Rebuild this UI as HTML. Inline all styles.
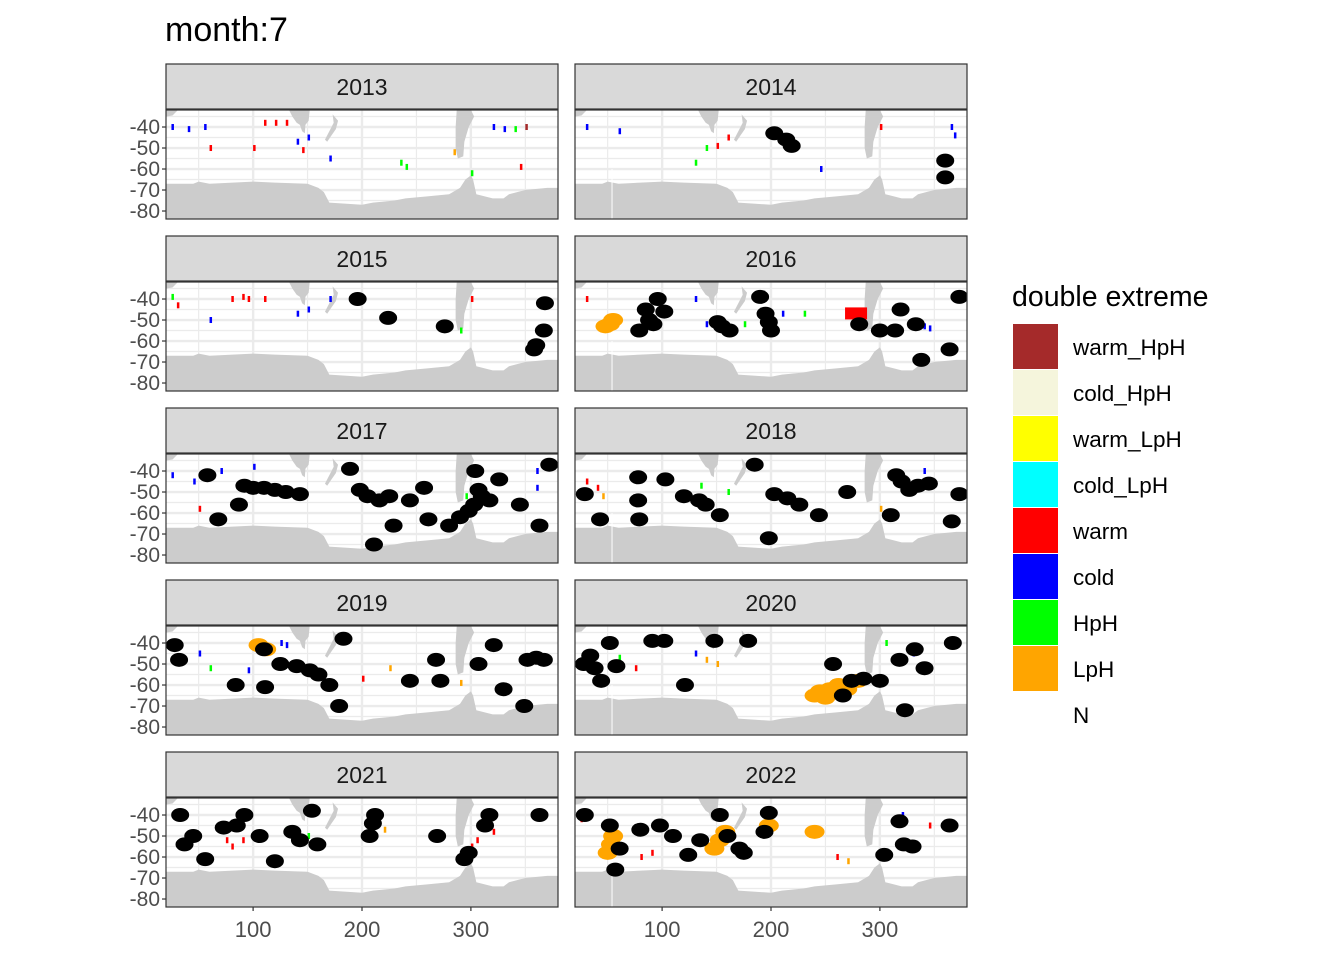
<!DOCTYPE html>
<html><head><meta charset="utf-8"><style>
body{margin:0;background:#fff;}
svg{display:block;font-family:"Liberation Sans",sans-serif;}
</style></head><body>
<svg id="c" width="1344" height="960" xmlns="http://www.w3.org/2000/svg">
<text x="165" y="41" font-size="34" fill="#000">month:7</text>
</svg>
<script>
const years=[2013,2014,2015,2016,2017,2018,2019,2020,2021,2022];
const lonTicks=[100,200,300];
const latTicks=[-40,-50,-60,-70,-80];
const legendLabels=["warm_HpH","cold_HpH","warm_LpH","cold_LpH","warm","cold","HpH","LpH","N"];
const legendColors=["#a52a2a","#f5f5dc","#ffff00","#00ffff","#ff0000","#0000ff","#00ff00","#ffa500","none"];
const antarctica=[[20,-67],[45,-67],[50,-66],[60,-67],[100,-66],[120,-66.5],[150,-67],[160,-69],[165,-71],[170,-76],[200,-77],[210,-76],[230,-75],[240,-74],[260,-73],[280,-72],[290,-69],[295,-65],[300,-63],[302,-65],[305,-72],[320,-74],[330,-74],[335,-72],[350,-70],[370,-69],[380,-69],[380,-84],[20,-84]];
const australia=[[133,-31.9],[152,-31.9],[151,-37],[148,-39],[147.5,-43],[145,-42],[143,-39],[140,-38],[136,-35]];
const newZealand=[[173,-34],[178,-37],[176,-41],[172,-44],[168,-47],[166,-46],[170,-42],[174,-38]];
const southAmerica=[[287,-31.9],[300,-31.9],[303,-35],[298,-40],[294,-47],[293,-54],[288,-55],[286,-50],[286,-40]];
const africa=[[18,-31.9],[31,-31.9],[26,-34.5],[20,-35]];
const blobs={
2013:[],
2014:[[203,-43],[219,-49],[214,-46],[360,-56],[360,-64]],
2015:[[196,-40],[224,-49],[276,-53],[368,-42],[367,-55],[358,-64],[360,-62]],
2016:[[96,-40],[88,-50],[79,-55],[102,-46],[92,-52],[151,-51],[162,-55],[190,-39],[195,-47],[200,-55],[198,-51],[281,-52],[300,-55],[319,-45],[314,-55],[333,-52],[373,-39],[364,-64],[338,-69],[85,-45],[155,-53]],
2017:[[58,-42],[92,-47],[120,-49],[143,-51],[110,-48],[87,-56],[68,-63],[189,-39],[198,-49],[216,-54],[244,-54],[257,-48],[261,-63],[229,-66],[211,-75],[304,-40],[307,-49],[326,-44],[298,-59],[280,-66],[345,-56],[363,-66],[372,-37],[317,-54],[290,-62],[310,-52],[100,-48],[130,-50],[225,-52],[205,-52],[303,-56]],
2018:[[29,-51],[78,-43],[78,-54],[79,-63],[43,-63],[103,-44],[134,-54],[153,-61],[185,-37],[203,-51],[226,-56],[244,-61],[198,-72],[270,-50],[315,-42],[327,-49],[345,-46],[373,-51],[310,-61],[366,-64],[120,-52],[140,-56],[215,-53],[320,-45],[335,-47]],
2019:[[28,-41],[32,-48],[110,-43],[125,-50],[152,-53],[170,-60],[183,-38],[111,-61],[84,-60],[179,-70],[244,-58],[268,-48],[272,-58],[307,-50],[321,-41],[330,-62],[352,-48],[367,-48],[349,-70],[140,-51],[160,-55],[360,-47]],
2020:[[34,-46],[52,-40],[58,-51],[44,-58],[28,-50],[91,-39],[102,-39],[121,-60],[148,-39],[179,-39],[257,-50],[274,-58],[266,-65],[300,-58],[318,-48],[332,-43],[341,-52],[323,-72],[367,-40],[38,-52],[285,-57]],
2021:[[33,-40],[37,-54],[56,-61],[73,-46],[92,-40],[106,-50],[120,-62],[136,-48],[143,-52],[159,-54],[154,-38],[207,-50],[212,-40],[269,-50],[294,-61],[313,-45],[317,-40],[363,-40],[45,-50],[85,-45],[298,-58],[210,-44]],
2022:[[29,-40],[52,-45],[61,-56],[57,-66],[80,-47],[98,-45],[124,-59],[135,-52],[153,-40],[171,-56],[198,-39],[194,-48],[304,-59],[322,-54],[318,-43],[364,-45],[160,-50],[110,-50],[175,-58],[330,-55]]
};
const orange={
2016:[[52,-52],[55,-50],[48,-53]],
2019:[[105,-41],[112,-43]],
2020:[[254,-62],[245,-63],[262,-60],[270,-62],[250,-66],[280,-58],[240,-65]],
2022:[[53,-54],[50,-58],[55,-50],[153,-52],[148,-56],[158,-48],[198,-45],[240,-48]]
};
const ticks={
2013:[[25,-40,"#0000ff"],[40,-41,"#0000ff"],[110,-38,"#ff0000"],[120,-38,"#ff0000"],[130,-38,"#ff0000"],[100,-50,"#ff0000"],[150,-45,"#0000ff"],[170,-55,"#0000ff"],[235,-57,"#00ff00"],[240,-59,"#00ff00"],[320,-40,"#0000ff"],[340,-41,"#00ff00"],[350,-40,"#a52a2a"],[345,-59,"#ff0000"],[300,-62,"#00ff00"],[284,-52,"#ffa500"],[60,-50,"#ff0000"],[55,-40,"#0000ff"],[140,-47,"#0000ff"],[145,-51,"#ff0000"],[330,-41,"#0000ff"]],
2014:[[30,-40,"#0000ff"],[60,-42,"#0000ff"],[140,-50,"#00ff00"],[130,-57,"#00ff00"],[300,-40,"#ff0000"],[365,-40,"#0000ff"],[368,-44,"#0000ff"],[245,-60,"#0000ff"],[160,-45,"#ff0000"],[150,-49,"#ff0000"]],
2015:[[25,-39,"#00ff00"],[30,-43,"#ff0000"],[80,-40,"#ff0000"],[90,-39,"#ff0000"],[110,-40,"#ff0000"],[150,-45,"#0000ff"],[170,-40,"#0000ff"],[300,-40,"#ff0000"],[290,-55,"#00ff00"],[60,-50,"#0000ff"],[95,-40,"#ff0000"],[140,-47,"#0000ff"]],
2016:[[30,-40,"#ff0000"],[175,-52,"#00ff00"],[230,-47,"#00ff00"],[345,-54,"#0000ff"],[340,-53,"#0000ff"],[130,-40,"#0000ff"],[140,-52,"#0000ff"],[210,-47,"#0000ff"]],
2017:[[25,-42,"#0000ff"],[70,-40,"#0000ff"],[100,-38,"#0000ff"],[295,-52,"#00ff00"],[360,-40,"#0000ff"],[360,-48,"#0000ff"],[50,-58,"#ff0000"],[45,-45,"#0000ff"]],
2018:[[30,-45,"#ff0000"],[40,-48,"#ff0000"],[135,-47,"#00ff00"],[160,-50,"#00ff00"],[300,-58,"#ffa500"],[340,-40,"#0000ff"],[45,-52,"#ffa500"]],
2019:[[125,-40,"#0000ff"],[130,-41,"#0000ff"],[95,-53,"#0000ff"],[60,-52,"#00ff00"],[200,-57,"#ff0000"],[290,-59,"#ffa500"],[225,-52,"#ffa500"],[50,-45,"#0000ff"]],
2020:[[60,-47,"#00ff00"],[75,-52,"#ff0000"],[140,-48,"#ffa500"],[150,-50,"#ffa500"],[305,-40,"#00ff00"],[330,-45,"#0000ff"],[370,-40,"#ff0000"],[130,-45,"#0000ff"]],
2021:[[75,-52,"#ff0000"],[80,-55,"#ff0000"],[130,-47,"#00ff00"],[150,-50,"#00ff00"],[300,-55,"#ff0000"],[305,-52,"#ff0000"],[320,-48,"#ff0000"],[220,-47,"#ffa500"],[90,-52,"#ff0000"]],
2022:[[25,-42,"#ff0000"],[150,-40,"#ff0000"],[320,-40,"#0000ff"],[345,-45,"#ff0000"],[360,-45,"#ff0000"],[80,-60,"#ff0000"],[260,-60,"#ff0000"],[270,-62,"#ffa500"],[90,-58,"#ff0000"]]
};
const NS="http://www.w3.org/2000/svg";
const svg=document.getElementById('c');
function mk(t,a,p){const e=document.createElementNS(NS,t);for(const k in a)e.setAttribute(k,a[k]);(p||svg).appendChild(e);return e;}
const PW=392,PH=109,LAT0=-31.9,LAT1=-83.8;
years.forEach((yr,i)=>{
  const col=i%2,row=Math.floor(i/2);
  const x0=col?575:166,y0=110+172*row;
  const X=l=>x0+(l-20)/360*PW, Y=la=>y0+(LAT0-la)/(LAT0-LAT1)*PH;
  const g=mk('g',{});
  
  
  const st=mk('rect',{x:x0,y:y0-46,width:PW,height:45,fill:'#d9d9d9',stroke:'#333','stroke-width':1.2},g);
  
  const stt=mk('text',{x:x0+PW/2,y:y0-15,'text-anchor':'middle','font-size':23,fill:'#1a1a1a'},g);stt.textContent=yr;
  
  const cp='clip'+yr;const cl=mk('clipPath',{id:cp},g);mk('rect',{x:x0,y:y0,width:PW,height:PH},cl);
  const inner=mk('g',{'clip-path':'url(#'+cp+')'},g);
  mk('rect',{x:x0,y:y0,width:PW,height:PH,fill:'#fff'},inner);
  [-35,-45,-55,-65,-75].forEach(v=>mk('line',{x1:x0,x2:x0+PW,y1:Y(v),y2:Y(v),stroke:'#ebebeb','stroke-width':1.2},inner));
  [50,150,250,350].forEach(v=>mk('line',{x1:X(v),x2:X(v),y1:y0,y2:y0+PH,stroke:'#ebebeb','stroke-width':1.2},inner));
  latTicks.forEach(v=>mk('line',{x1:x0,x2:x0+PW,y1:Y(v),y2:Y(v),stroke:'#ebebeb','stroke-width':2.4},inner));
  lonTicks.forEach(v=>mk('line',{x1:X(v),x2:X(v),y1:y0,y2:y0+PH,stroke:'#ebebeb','stroke-width':2.4},inner));
  [antarctica,australia,newZealand,southAmerica,africa].forEach((poly,k)=>{
    const p=mk('polygon',{points:poly.map(q=>X(q[0])+','+Y(q[1])).join(' '),fill:'#cccccc'},inner);
    
    
  });
  if(col) mk('line',{x1:X(54),x2:X(54),y1:Y(-60),y2:y0+PH,stroke:'#fff','stroke-width':1},inner);
  (ticks[yr]||[]).forEach(t=>{const r=mk('rect',{x:X(t[0]),y:Y(t[1])-3,width:2.5,height:6,fill:t[2]},inner);
    });
  (orange[yr]||[]).forEach(t=>{const r=mk('ellipse',{cx:X(t[0]),cy:Y(t[1]),rx:10,ry:7,fill:'#ffa500'},inner);
    });
  if(yr==2016){const r=mk('rect',{x:X(268),y:Y(-44),width:22,height:12,fill:'#ff0000'},inner);}
  (blobs[yr]||[]).forEach(t=>{const c=mk('ellipse',{cx:X(t[0]),cy:Y(t[1]),rx:9,ry:7,fill:'#000'},inner);
    });
  mk('rect',{x:x0,y:y0,width:PW,height:PH,fill:'none',stroke:'#333','stroke-width':1.2},g);
  if(col==0){latTicks.forEach(v=>{mk('line',{x1:x0-4,x2:x0,y1:Y(v),y2:Y(v),stroke:'#333','stroke-width':1.2},g);
    const t=mk('text',{x:x0-6,y:Y(v)+7,'text-anchor':'end','font-size':21,fill:'#4d4d4d'},g);t.textContent=v;
    });}
  if(row==4){lonTicks.forEach(v=>{mk('line',{x1:X(v),x2:X(v),y1:y0+PH,y2:y0+PH+4,stroke:'#333','stroke-width':1.2},g);
    const t=mk('text',{x:X(v),y:y0+PH+30,'text-anchor':'middle','font-size':22,fill:'#4d4d4d'},g);t.textContent=v;
    });}
});
const lg=mk('g',{});

const lt=mk('text',{x:1012,y:306,'font-size':28.5,fill:'#000'},lg);lt.textContent='double extreme';

legendLabels.forEach((l,i)=>{
  const y=324+46*i;
  if(legendColors[i]!=='none'){const r=mk('rect',{x:1013,y:y,width:45,height:45,fill:legendColors[i]},lg);
    }
  const t=mk('text',{x:1073,y:y+31,'font-size':22.5,fill:'#000'},lg);t.textContent=l;
  
});
</script>
</body></html>
